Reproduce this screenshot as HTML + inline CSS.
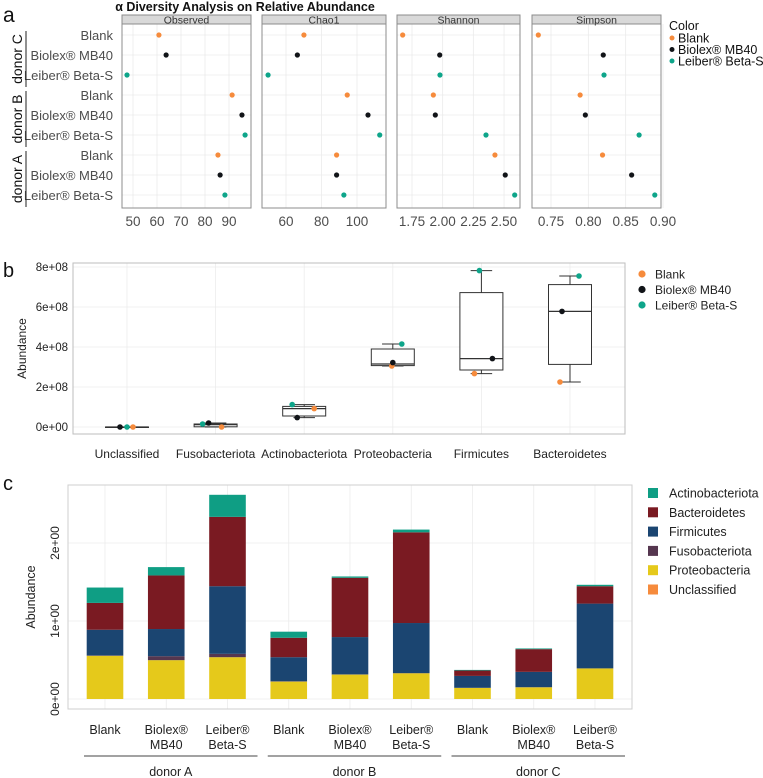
<!DOCTYPE html>
<html><head><meta charset="utf-8"><style>
body{margin:0;background:#fff;}
svg{display:block;font-family:"Liberation Sans",sans-serif;}
</style></head><body>
<svg id="fig" width="763" height="778" viewBox="0 0 763 778"></svg>
<script>
// ---------- Panel a data ----------
const aRows = ["Blank","Biolex® MB40","Leiber® Beta-S","Blank","Biolex® MB40","Leiber® Beta-S","Blank","Biolex® MB40","Leiber® Beta-S"];
const aRowColor = ["Blank","Biolex","Leiber","Blank","Biolex","Leiber","Blank","Biolex","Leiber"];
const aDonors = ["donor C","donor B","donor A"];
const aObserved = [60.8,63.8,47.5,91.3,95.4,96.7,85.4,86.3,88.3];
const aChao1 = [70.1,66.4,49.9,94.5,106.2,112.8,88.5,88.5,92.6];
const aShannon = [1.674,1.976,1.978,1.924,1.940,2.353,2.426,2.510,2.587];
const aSimpson = [0.733,0.820,0.821,0.789,0.796,0.868,0.819,0.858,0.889];
const tObserved = [50,60,70,80,90];
const tChao1 = [60,80,100];
const tShannon = [1.75,2.00,2.25,2.50];
const tSimpson = [0.75,0.80,0.85,0.90];
// ---------- Panel b data ----------
const bCats = ["Unclassified","Fusobacteriota","Actinobacteriota","Proteobacteria","Firmicutes","Bacteroidetes"];
const bBlank = [0,0,0.92,3.05,2.67,2.25];
const bBiolex = [0,0.2,0.47,3.22,3.42,5.78];
const bLeiber = [0,0.15,1.12,4.15,7.82,7.55];
const bQ1 = [0,0.01,0.55,3.07,2.85,3.13];
const bMed = [0,0.12,0.92,3.15,3.42,5.78];
const bQ3 = [0,0.15,1.03,3.9,6.72,7.12];
const bTicks = [0,2,4,6,8];
// ---------- Panel c data ----------
const cBars = ["Blank","Biolex® MB40","Leiber® Beta-S","Blank","Biolex® MB40","Leiber® Beta-S","Blank","Biolex® MB40","Leiber® Beta-S"];
const cGroups = ["donor A","donor B","donor C"];
const cProteo = [0.554,0.498,0.536,0.223,0.313,0.330,0.142,0.150,0.391];
const cFuso = [0.005,0.051,0.043,0.005,0.003,0.003,0.002,0.002,0.002];
const cFirm = [0.329,0.348,0.867,0.308,0.478,0.641,0.152,0.196,0.830];
const cBact = [0.344,0.687,0.889,0.249,0.760,1.163,0.069,0.291,0.223];
const cActino = [0.197,0.107,0.283,0.078,0.017,0.035,0.008,0.009,0.018];
const cTicks = [0,1,2];

const NS="http://www.w3.org/2000/svg";
const svg=document.getElementById('fig');
function mk(tag,attrs,parent,text){const e=document.createElementNS(NS,tag);for(const k in attrs)e.setAttribute(k,attrs[k]);if(text!==undefined)e.textContent=text;(parent||svg).appendChild(e);return e;}
const COL={Blank:"#f68b3c",Biolex:"#111418",Leiber:"#0ea58a"};

// ===== Panel a =====
let t=mk('text',{x:3,y:22,'font-size':21,fill:'#111'},svg,'a');

t=mk('text',{x:245,y:11,'font-size':12.5,'font-weight':'bold','text-anchor':'middle',fill:'#111'},svg,'α Diversity Analysis on Relative Abundance');

const rowY=i=>35+i*20;
aRows.forEach((r,i)=>{const e=mk('text',{x:113,y:rowY(i)+5,'font-size':13,'text-anchor':'end',fill:'#4d4d4d'},svg,r);
});
aDonors.forEach((d,g)=>{const y0=rowY(g*3)-4,y1=rowY(g*3+2)+12;
const l=mk('line',{x1:26,x2:26,y1:y0,y2:y1,stroke:'#222','stroke-width':1});

const e=mk('text',{x:0,y:0,'font-size':14,'text-anchor':'middle',fill:'#111',transform:`translate(22,${(y0+y1)/2}) rotate(-90)`},svg,d);
});
const facets=[
 {name:'Observed',x0:122,x1:251,vals:aObserved,ticks:tObserved,v0:50,p0:133,k:2.4,fmt:v=>v},
 {name:'Chao1',x0:262,x1:386,vals:aChao1,ticks:tChao1,v0:60,p0:286,k:1.775,fmt:v=>v},
 {name:'Shannon',x0:397,x1:520,vals:aShannon,ticks:tShannon,v0:1.75,p0:412,k:122.7,fmt:v=>v.toFixed(2)},
 {name:'Simpson',x0:532,x1:661,vals:aSimpson,ticks:tSimpson,v0:0.75,p0:551,k:746.7,fmt:v=>v.toFixed(2)}];
facets.forEach(f=>{
 const g=mk('g',{});
 const sx=v=>f.p0+(v-f.v0)*f.k;
 f.ticks.forEach(tv=>{mk('line',{x1:sx(tv),x2:sx(tv),y1:24,y2:208,stroke:'#ebebeb','stroke-width':0.8},g);});
 aRows.forEach((r,i)=>mk('line',{x1:f.x0,x2:f.x1,y1:rowY(i),y2:rowY(i),stroke:'#ebebeb','stroke-width':0.8},g));
 mk('rect',{x:f.x0,y:24,width:f.x1-f.x0,height:184,fill:'none',stroke:'#8c8c8c','stroke-width':1},g);
 const s=mk('rect',{x:f.x0,y:15,width:f.x1-f.x0,height:9,fill:'#d9d9d9',stroke:'#8c8c8c','stroke-width':1},g);
 
 mk('text',{x:(f.x0+f.x1)/2,y:23.5,'font-size':10.5,'text-anchor':'middle',fill:'#333'},g,f.name);
 f.ticks.forEach(tv=>{const e=mk('text',{x:sx(tv),y:226,'font-size':13.5,'text-anchor':'middle',fill:'#4d4d4d'},g,f.fmt(tv));
  });
 f.vals.forEach((v,i)=>{const c=mk('circle',{cx:sx(v),cy:rowY(i),r:2.6,fill:COL[aRowColor[i]]},g);
  });
});
t=mk('text',{x:669,y:30,'font-size':12.5,fill:'#111'},svg,'Color');

[['Blank','Blank'],['Biolex','Biolex® MB40'],['Leiber','Leiber® Beta-S']].forEach((p,i)=>{
 const y=38+i*11.5;const c=mk('circle',{cx:672,cy:y,r:2.5,fill:COL[p[0]]});
 
 const e=mk('text',{x:678,y:y+4.5,'font-size':12.5,fill:'#111'},svg,p[1]);
 });

// ===== Panel b =====
t=mk('text',{x:3,y:277,'font-size':20,fill:'#111'},svg,'b');

const bL=73,bR=625,bT=263,bB=434;
const bx=i=>127+i*88.6, by=v=>427-v*20;
const gb=mk('g',{});
bTicks.forEach(v=>{mk('line',{x1:bL,x2:bR,y1:by(v),y2:by(v),stroke:'#ececec','stroke-width':0.8},gb);
 const e=mk('text',{x:68,y:by(v)+4,'font-size':11.5,'text-anchor':'end',fill:'#222'},gb,v===0?'0e+00':v+'e+08');
 });
bCats.forEach((c,i)=>mk('line',{x1:bx(i),x2:bx(i),y1:bT,y2:bB,stroke:'#ececec','stroke-width':0.8},gb));
mk('rect',{x:bL,y:bT,width:bR-bL,height:bB-bT,fill:'none',stroke:'#bdbdbd','stroke-width':1},gb);
t=mk('text',{x:0,y:0,'font-size':12,'text-anchor':'middle',fill:'#222',transform:`translate(26,${(bT+bB)/2}) rotate(-90)`},svg,'Abundance');

const jit={Blank:[6,6,10,-1,-7,-10],Biolex:[-7,-7,-7,0,11,-8],Leiber:[0,-13,-12,9,-2,9]};
bCats.forEach((c,i)=>{
 const x=bx(i),hw=21.5;
 const vals=[bBlank[i],bBiolex[i],bLeiber[i]];const mn=Math.min(...vals),mx=Math.max(...vals);
 const w1=mk('line',{x1:x,x2:x,y1:by(mx),y2:by(bQ3[i]),stroke:'#333','stroke-width':1},gb);
 
 mk('line',{x1:x,x2:x,y1:by(bQ1[i]),y2:by(mn),stroke:'#333','stroke-width':1},gb);
 mk('line',{x1:x-hw/2,x2:x+hw/2,y1:by(mx),y2:by(mx),stroke:'#333','stroke-width':1},gb);
 mk('line',{x1:x-hw/2,x2:x+hw/2,y1:by(mn),y2:by(mn),stroke:'#333','stroke-width':1},gb);
 const r=mk('rect',{x:x-hw,y:by(bQ3[i]),width:2*hw,height:Math.max(0.5,by(bQ1[i])-by(bQ3[i])),fill:'#fff',stroke:'#333','stroke-width':1},gb);
 
 mk('line',{x1:x-hw,x2:x+hw,y1:by(bMed[i]),y2:by(bMed[i]),stroke:'#333','stroke-width':1.2},gb);
 [['Blank',bBlank],['Biolex',bBiolex],['Leiber',bLeiber]].forEach(p=>{
  const ci=mk('circle',{cx:x+jit[p[0]][i],cy:by(p[1][i]),r:2.8,fill:COL[p[0]]},gb);
  });
 const e=mk('text',{x:x,y:458,'font-size':12,'text-anchor':'middle',fill:'#222'},gb,c);
 
});
[['Blank','Blank'],['Biolex','Biolex® MB40'],['Leiber','Leiber® Beta-S']].forEach((p,i)=>{
 const y=274+i*15.5;const c=mk('circle',{cx:642,cy:y,r:3.6,fill:COL[p[0]]});
 
 const e=mk('text',{x:655,y:y+4.5,'font-size':12,fill:'#222'},svg,p[1]);
 });

// ===== Panel c =====
t=mk('text',{x:3,y:490,'font-size':20,fill:'#111'},svg,'c');

const cL=68,cR=632,cT=485,cB=709;
const cx=i=>105+i*61.25, cy=v=>699-v*78;
const gc=mk('g',{});
cTicks.forEach(v=>{mk('line',{x1:cL,x2:cR,y1:cy(v),y2:cy(v),stroke:'#ececec','stroke-width':0.8},gc);
 const e=mk('text',{x:0,y:0,'font-size':12,'text-anchor':'middle',fill:'#222',transform:`translate(59,${cy(v)}) rotate(-90)`},gc,v+'e+00');
 });
cBars.forEach((b,i)=>mk('line',{x1:cx(i),x2:cx(i),y1:cT,y2:cB,stroke:'#ececec','stroke-width':0.8},gc));
mk('rect',{x:cL,y:cT,width:cR-cL,height:cB-cT,fill:'none',stroke:'#cfcfcf','stroke-width':1},gc);
t=mk('text',{x:0,y:0,'font-size':12.5,'text-anchor':'middle',fill:'#222',transform:`translate(35,597) rotate(-90)`},svg,'Abundance');

const layers=[['proteobacteria',cProteo,'#e5c91b'],['fusobacteriota',cFuso,'#55364f'],['firmicutes',cFirm,'#1b4571'],['bacteroidetes',cBact,'#7a1a22'],['actinobacteriota',cActino,'#0f9e84']];
cBars.forEach((b,i)=>{
 let acc=0;const bw=36.6;
 layers.forEach(L=>{const v=L[1][i];
  const r=mk('rect',{x:cx(i)-bw/2,y:cy(acc+v),width:bw,height:cy(acc)-cy(acc+v),fill:L[2]},gc);
  acc+=v;});
 const parts=b.split(' ');
 if(parts.length===1){const e=mk('text',{x:cx(i),y:734,'font-size':12.5,'text-anchor':'middle',fill:'#222'},gc,b);
  }
 else{const e=mk('text',{x:cx(i),y:734,'font-size':12.5,'text-anchor':'middle',fill:'#222'},gc,parts[0]);
  
  const e2=mk('text',{x:cx(i),y:749,'font-size':12.5,'text-anchor':'middle',fill:'#222'},gc,parts[1]);
  }
});
cGroups.forEach((g,k)=>{const x0=cx(k*3)-21,x1=cx(k*3+2)+30;
 const l=mk('line',{x1:x0,x2:x1,y1:756,y2:756,stroke:'#444','stroke-width':1});
 
 const e=mk('text',{x:(x0+x1)/2,y:776,'font-size':12.5,'text-anchor':'middle',fill:'#222'},svg,g);
 });
[['Actinobacteriota','#0f9e84'],['Bacteroidetes','#7a1a22'],['Firmicutes','#1b4571'],['Fusobacteriota','#55364f'],['Proteobacteria','#e5c91b'],['Unclassified','#f68b3c']].forEach((p,i)=>{
 const y=493+i*19.3;const r=mk('rect',{x:648,y:y-5,width:10,height:10,fill:p[1]});
 
 const e=mk('text',{x:669,y:y+4.5,'font-size':12.5,fill:'#222'},svg,p[0]);
 });
</script>
</body></html>
